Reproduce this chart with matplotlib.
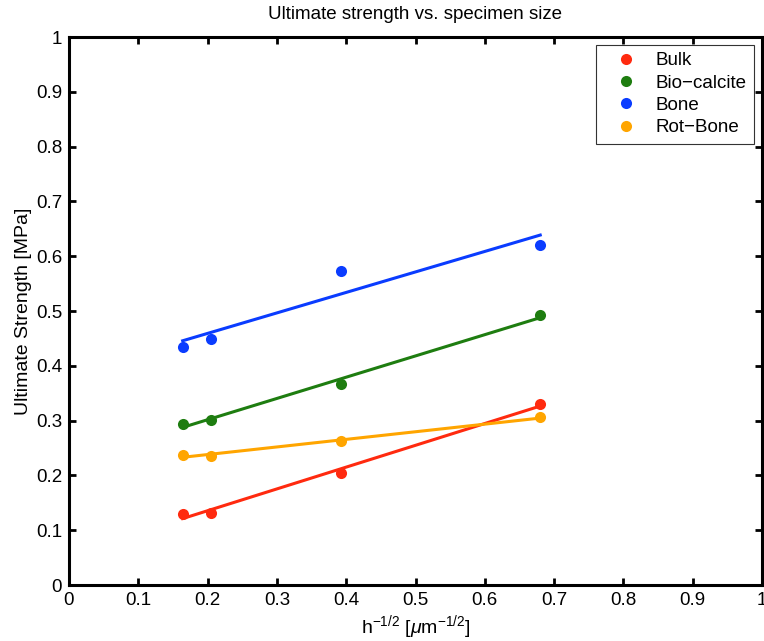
#! /usr/bin/env python3
import numpy as np
import matplotlib
matplotlib.use("Agg")
import matplotlib.pyplot as plt

plt.rcParams["font.family"] = ["Liberation Sans", "DejaVu Sans"]
plt.rcParams["mathtext.fontset"] = "custom"
plt.rcParams["mathtext.rm"] = "Liberation Sans"
plt.rcParams["mathtext.it"] = "Liberation Sans:italic"

# specimen size, h^-1/2
x = [0.164, 0.2045, 0.392, 0.680]

names = ["Bulk", "Bio\u2212calcite", "Bone", "Rot\u2212Bone"]
bulk = [0.130, 0.132, 0.205, 0.330]
biocalcite = [0.294, 0.302, 0.367, 0.492]
bone = [0.434, 0.448, 0.573, 0.621]
rotbone = [0.237, 0.236, 0.262, 0.306]
colors = ["#ff2a0f", "#1e7d10", "#0a3cff", "#ffa500"]

xticks = [0, 0.1, 0.2, 0.3, 0.4, 0.5, 0.6, 0.7, 0.8, 0.9, 1]
ticklabels = ["0", "0.1", "0.2", "0.3", "0.4", "0.5", "0.6", "0.7", "0.8", "0.9", "1"]

fig = plt.figure(figsize=(7.64, 6.41), dpi=100)
ax = fig.add_axes([69/764, 1-585/641, 693/764, 548/641])

xa = np.array(x)
for name, ys, c in zip(names, [bulk, biocalcite, bone, rotbone], colors):
    ### linear fit
    p = np.polyfit(xa, ys, 1)
    ax.plot(xa[[0, -1]], np.polyval(p, xa[[0, -1]]), color=c, lw=2.2)
    ### points
    ax.plot(xa, ys, "o", color=c, ms=8, mec="none", label=name)

ax.set_xlim(0, 1)
ax.set_ylim(0, 1)
ax.set_xticks(xticks)
ax.set_xticklabels(ticklabels)
ax.set_yticks(xticks)
ax.set_yticklabels(ticklabels)
ax.tick_params(direction="in", length=5, width=2, top=True, right=True,
               labelsize=13.5, pad=5)
for s in ax.spines.values():
    s.set_linewidth(2.2)

ax.set_xlabel(r"h$^{-1/2}$ [$\mathit{\mu}$m$^{-1/2}$]", fontsize=14, labelpad=3)
ax.set_ylabel("Ultimate Strength [MPa]", fontsize=14, labelpad=3)
ax.set_title("Ultimate strength vs. specimen size", fontsize=13.5, pad=13)

leg = ax.legend(loc="upper right", bbox_to_anchor=(0.9885, 0.986), fontsize=13.5,
                fancybox=False, edgecolor="#333333", framealpha=1,
                handlelength=2.5, handletextpad=0.3, borderpad=0.4,
                labelspacing=0.28, borderaxespad=0)
leg.get_frame().set_linewidth(0.8)

plt.savefig("out.png", dpi=100)
